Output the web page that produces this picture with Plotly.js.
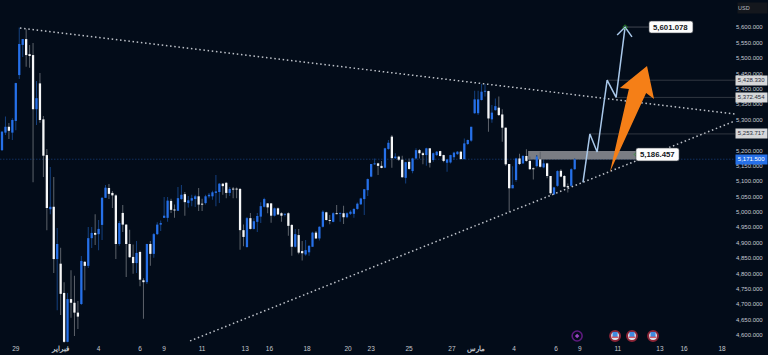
<!DOCTYPE html>
<html><head><meta charset="utf-8">
<script src="https://cdn.plot.ly/plotly-3.0.1.min.js"></script>
<style>html,body{margin:0;padding:0;background:#030c19;overflow:hidden}</style>
</head><body><div id="chart" style="width:768px;height:355px"></div>
<script>
const opens=[5201,5258,5277,5258,5296,5445,5543,5562,5513,5510,
5334,5418,5301,5185,5009,5017,4847,4832,4737,4578,
4717,4705,4673,4701,4838,4825,4915,4932,4928,4958,
5046,5078,5062,5054,4896,4997,4959,4896,4854,4834,
4870,4778,4772,4896,4864,4928,4959,4981,4981,5036,
5007,5004,5042,5058,5029,5037,5042,5051,5026,5029,
5051,5051,5062,5065,5092,5095,5062,5075,5075,5075,
4941,4886,4980,4945,4968,4985,5017,5028,5028,4988,
5012,4996,4991,4996,4958,4887,4925,4873,4862,4869,
4887,4933,4914,4952,4999,4974,4968,4996,4994,4996,
4983,4994,4994,5010,5025,5042,5071,5115,5155,5158,
5150,5144,5205,5245,5175,5180,5170,5111,5163,5133,
5174,5201,5191,5185,5207,5169,5185,5198,5185,5160,
5161,5178,5188,5196,5172,5221,5232,5321,5321,5364,
5391,5393,5301,5331,5339,5317,5274,5156,5077,5104,
5174,5158,5182,5166,5142,5149,5171,5145,5158,5117,
5057,5085,5134,5117,5084,5085,5139];
const closes=[5261,5277,5264,5299,5419,5546,5562,5510,5507,5334,
5370,5299,5183,5013,5017,4847,4896,4734,4578,4717,
4705,4673,4660,4841,4825,4915,4932,4926,4945,5046,
5079,5059,5054,4896,4964,4959,4896,4853,4834,4867,
4780,4772,4896,4864,4928,4959,4964,4988,5037,5007,
5005,5045,5056,5032,5038,5045,5051,5024,5024,5051,
5056,5064,5067,5092,5084,5062,5075,5073,5073,4941,
4919,4980,4945,4970,4987,5019,5042,5015,4988,5012,
4992,4988,4994,4955,4887,4928,4868,4866,4876,4890,
4933,4914,4952,5001,4974,4971,4996,4993,4996,4983,
4996,5001,5010,5027,5044,5074,5107,5156,5158,5150,
5143,5207,5225,5175,5180,5170,5113,5162,5140,5174,
5201,5191,5185,5207,5160,5191,5196,5182,5166,5171,
5185,5193,5196,5172,5223,5234,5277,5366,5366,5391,
5394,5304,5323,5344,5315,5274,5155,5077,5088,5174,
5156,5182,5166,5139,5139,5180,5147,5158,5117,5061,
5080,5133,5115,5082,5080,5139,5171];
const highs=[5263,5310,5289,5305,5420,5600,5562,5594,5543,5549,
5426,5452,5312,5205,5146,5114,4948,4884,4772,4737,
4811,4793,4711,4857,4841,4951,4951,4993,4974,5049,
5088,5091,5068,5058,4971,5023,4961,4942,4894,4906,
4874,4785,4897,4906,4932,4967,4972,5049,5049,5043,
5024,5081,5088,5065,5052,5056,5056,5078,5043,5056,
5062,5069,5120,5094,5094,5097,5081,5081,5080,5078,
4959,4984,4997,4980,4997,5032,5046,5029,5029,5015,
5015,4999,4996,4999,4960,4945,4945,4906,4909,4893,
4936,4938,4954,5006,5001,4990,4999,5023,4998,5020,
4999,5006,5012,5031,5046,5075,5109,5156,5174,5160,
5166,5209,5234,5250,5191,5183,5183,5163,5174,5176,
5207,5205,5196,5209,5207,5193,5198,5199,5186,5171,
5186,5196,5198,5199,5239,5236,5277,5394,5394,5416,
5416,5394,5348,5369,5375,5334,5275,5156,5149,5176,
5189,5185,5204,5180,5145,5185,5196,5169,5160,5117,
5082,5136,5139,5120,5093,5142,5174];
const lows=[5198,5250,5237,5234,5266,5432,5504,5472,5469,5097,
5283,5290,5114,4941,4993,4802,4681,4665,4575,4577,
4656,4597,4620,4698,4746,4818,4883,4893,4876,4909,
5046,5042,5013,4847,4890,4935,4789,4851,4799,4802,
4759,4653,4766,4825,4851,4925,4938,4981,4968,4997,
4981,5003,5040,4988,5015,5019,5016,5003,5003,5024,
5045,5040,5019,5029,5056,5045,5052,5045,5045,4877,
4889,4885,4943,4943,4935,4964,5015,4996,4965,4985,
4990,4968,4985,4923,4858,4885,4863,4842,4858,4858,
4887,4912,4907,4950,4972,4960,4967,4993,4968,4961,
4980,4990,4981,5007,5023,4990,5052,5113,5153,5120,
5142,5142,5202,5144,5172,5166,5111,5093,5137,5126,
5171,5174,5155,5150,5145,5163,5182,5180,5162,5131,
5158,5169,5185,5171,5171,5218,5228,5319,5315,5362,
5375,5261,5290,5329,5312,5228,5150,5001,5077,5098,
5153,5156,5163,5137,5106,5145,5145,5142,5110,5055,
5055,5082,5113,5080,5063,5082,5137];

const tickPos=[4,17,28,40,47,58,70.5,77.5,88.4,100.3,107,118,130.4,137.4,148.4,160.6,167.5,178.5,190.7,197.7,208.7];
const tickLabels=['29','<b>فبراير</b>','4','6','9','11','13','16','18','20','23','25','27','<b>مارس</b>','4','6','9','11','13','16','18'];
const priceTicks=[4600,4650,4700,4750,4800,4850,4900,4950,5000,5050,5100,5150,5200,5300,5350,5400,5450,5500,5550,5600];

const upperLineX=[5.2,212.46], upperLineY=[5598,5318.5];
const lowerLineX=[54.5,212.46], lowerLineY=[4581,5296];
const pathX=[168.4,170.4,172.5,175.4,178,180.6], pathY=[5096,5253.717,5195,5428.33,5372.454,5601.078];
const headX=[178.3,180.6,182.6], headY=[5575,5601.078,5569];
const arrowX=[186.96,189,186.7,176.2,181.7,179.1,186.96], arrowY=[5474.5,5367,5387,5130,5400,5403,5474.5];
const boxIdx=[152.5,183.8], boxPrice=[5171,5198];
const lastPrice=5171.5, lastLabel='5,171.500';
const levels=[{p:5428.33,from:175.4,t:'5,428.330'},{p:5372.454,from:178,t:'5,372.454'},{p:5253.717,from:170.4,t:'5,253.717'}];
const targetLabel={i:193.9,p:5601.078,t:'5,601.078'}, zoneLabel={i:190,p:5187,t:'5,186.457'};
const flagX=[177.7,182.6,188.7], iconX=[166.7], iconP=4597;

const n=opens.length, idx=Array.from({length:n},(_,i)=>i);
const BG='#030c19', BLUE='#2670e8', WHITE='#f6f7f8';
const xRange=[-0.58,212.46], yRange=[4567.75,5689];

function rounded(i,p,wi,hp){ // rounded label plate, in axis units
  const a=i-wi/2,b=i+wi/2,t=p+hp/2,u=p-hp/2,r=0.65,s=6.5;
  return `M${a+r},${t} L${b-r},${t} Q${b},${t} ${b},${t-s} L${b},${u+s} Q${b},${u} ${b-r},${u} L${a+r},${u} Q${a},${u} ${a},${u+s} L${a},${t-s} Q${a},${t} ${a+r},${t} Z`;
}

const traces=[
 {type:'bar',x:idx,base:lows,y:highs.map((h,i)=>h-lows[i]),width:0.29,hoverinfo:'skip',
  marker:{color:opens.map((o,i)=>closes[i]>=o?'#14407f':'#5d636b'),line:{width:0}}},
 {type:'bar',x:idx,base:opens.map((o,i)=>Math.min(o,closes[i])),
  y:opens.map((o,i)=>Math.max(Math.abs(closes[i]-o),3)),width:0.66,hoverinfo:'skip',
  marker:{color:opens.map((o,i)=>closes[i]>=o?BLUE:WHITE),line:{width:0}}},
 {type:'scatter',mode:'lines',x:upperLineX,y:upperLineY,line:{color:'#bfc3ca',width:1.5,dash:'1.5px,2.7px'},hoverinfo:'skip'},
 {type:'scatter',mode:'lines',x:lowerLineX,y:lowerLineY,line:{color:'#bfc3ca',width:1.5,dash:'1.5px,2.7px'},hoverinfo:'skip'},
 {type:'scatter',mode:'lines',x:pathX,y:pathY,line:{color:'#a9c8ea',width:1.5},hoverinfo:'skip'},
 {type:'scatter',mode:'lines',x:headX,y:headY,line:{color:'#a9c8ea',width:1.5},hoverinfo:'skip'},
 {type:'scatter',mode:'lines',x:arrowX,y:arrowY,fill:'toself',fillcolor:'#f57f17',line:{width:0,color:'#f57f17'},hoverinfo:'skip'},
 {type:'scatter',mode:'markers',x:iconX,y:[iconP],marker:{symbol:'circle-open',size:10,line:{color:'#5e1a7e',width:1.6},color:'#5e1a7e'},hoverinfo:'skip'},
 {type:'scatter',mode:'markers',x:iconX,y:[iconP],marker:{symbol:'diamond',size:3.5,color:'#9a46c2'},hoverinfo:'skip'},
 {type:'scatter',mode:'markers',x:flagX,y:flagX.map(()=>iconP),marker:{symbol:'circle',size:10,color:'#dfe2ec',line:{color:'#8a2436',width:2}},hoverinfo:'skip'},
 {type:'scatter',mode:'markers',x:flagX,y:flagX.map(()=>iconP+5),marker:{symbol:'square',size:5,color:'#3f8be0'},hoverinfo:'skip'},
 {type:'scatter',mode:'markers',x:flagX,y:flagX.map(()=>iconP-4),marker:{symbol:'line-ew',size:5,line:{color:'#d0404f',width:1.2}},hoverinfo:'skip'},
 {type:'scatter',mode:'markers',x:[180.6,183.9],y:[5601.078,5187],marker:{symbol:'diamond-open',size:3.5,line:{color:'#b8bcc4',width:0.8}},hoverinfo:'skip'}
];

const shapes=[
 {type:'line',xref:'x',yref:'y',x0:xRange[0],x1:xRange[1],y0:lastPrice,y1:lastPrice,layer:'below',line:{color:'#12315f',width:1,dash:'1.5px,1.5px'}},
 {type:'rect',xref:'x',yref:'y',x0:boxIdx[0],x1:boxIdx[1],y0:boxPrice[0],y1:boxPrice[1],layer:'below',fillcolor:'#7a7d84',line:{width:0}},
 {type:'line',xref:'x',yref:'y',x0:180.6,x1:187.5,y0:5601.078,y1:5601.078,layer:'below',line:{color:'#50555e',width:0.8}},
 {type:'path',xref:'x',yref:'y',path:rounded(targetLabel.i,targetLabel.p,12.75,39),fillcolor:'#fdfdfd',line:{color:'#3a3f47',width:0.6},layer:'above'},
 {type:'path',xref:'x',yref:'y',path:rounded(zoneLabel.i,zoneLabel.p,12.5,42),fillcolor:'#fdfdfd',line:{color:'#3a3f47',width:0.6},layer:'above'}
].concat(levels.map(l=>({type:'line',xref:'x',yref:'y',x0:l.from,x1:xRange[1],y0:l.p,y1:l.p,layer:'below',line:{color:'#3d424b',width:0.8}})));

const axisTag=(p,t,bg,fg)=>({xref:'paper',yref:'y',x:1,y:p,xanchor:'left',yanchor:'middle',xshift:0,text:t,showarrow:false,
  bgcolor:bg,font:{family:'Liberation Sans',size:6,color:fg},borderpad:0.5,width:30,height:7.5,align:'center'});
const annotations=[
 {xref:'x',yref:'y',x:targetLabel.i,y:targetLabel.p,text:'<b>'+targetLabel.t+'</b>',showarrow:false,font:{family:'Liberation Sans',size:7.8,color:'#131722'}},
 {xref:'x',yref:'y',x:zoneLabel.i,y:zoneLabel.p,text:'<b>'+zoneLabel.t+'</b>',showarrow:false,font:{family:'Liberation Sans',size:7.8,color:'#131722'}},
 {xref:'paper',yref:'paper',x:1,y:1,xanchor:'left',yanchor:'top',xshift:2,yshift:-2,text:'USD',showarrow:false,width:29,height:10,align:'left',
  bgcolor:'#14171d',font:{family:'Liberation Sans',size:5.5,color:'#b4b8c0'},borderpad:0}
].concat(levels.map(l=>axisTag(l.p,l.t,'#d6d7d9','#2a2e39')),[axisTag(lastPrice,lastLabel,'#2670e8','#ffffff')]);

const layout={width:768,height:355,margin:{l:0,r:33,t:0,b:10,pad:0},paper_bgcolor:BG,plot_bgcolor:BG,
 showlegend:false,barmode:'overlay',
 xaxis:{type:'linear',range:xRange,showgrid:false,zeroline:false,showline:false,ticks:'',ticklabelstandoff:-2,
  tickmode:'array',tickvals:tickPos,ticktext:tickLabels,tickangle:0,tickfont:{family:'Liberation Sans',size:6.5,color:'#c6cad1'},fixedrange:true},
 yaxis:{type:'linear',side:'right',range:yRange,showgrid:false,zeroline:false,showline:false,ticks:'',ticklen:0,
  tickmode:'array',tickvals:priceTicks,ticktext:priceTicks.map(v=>v.toLocaleString('en-US',{minimumFractionDigits:3})),
  tickfont:{family:'Liberation Sans',size:6,color:'#c6cad1'},fixedrange:true},
 shapes,annotations};
Plotly.newPlot('chart',traces,layout,{displayModeBar:false,staticPlot:true});
</script></body></html>
